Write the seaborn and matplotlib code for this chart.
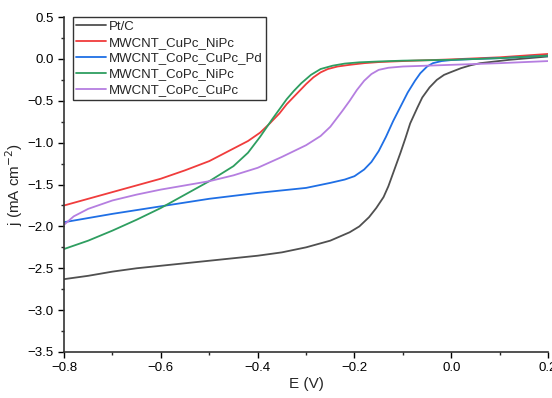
import numpy as np
import pandas as pd
import matplotlib
matplotlib.use("Agg")
import matplotlib.pyplot as plt
import seaborn as sns
from matplotlib.ticker import MultipleLocator

# Data
ptc_e = [-0.8, -0.75, -0.7, -0.65, -0.6, -0.5, -0.4, -0.35, -0.3, -0.25, -0.21, -0.19, -0.17, -0.155,
         -0.14, -0.13, -0.12, -0.105, -0.095, -0.085, -0.07, -0.06, -0.045, -0.03, -0.015,
         0.0, 0.02, 0.04, 0.06, 0.09, 0.12, 0.16, 0.2]
ptc_j = [-2.63, -2.59, -2.54, -2.50, -2.47, -2.41, -2.35, -2.31, -2.25, -2.17, -2.07, -2.00, -1.89, -1.78,
         -1.65, -1.52, -1.36, -1.12, -0.95, -0.77, -0.58, -0.46, -0.34, -0.25, -0.19,
         -0.155, -0.11, -0.075, -0.05, -0.03, -0.01, 0.01, 0.03]

cunipc_e = [-0.8, -0.75, -0.7, -0.65, -0.6, -0.55, -0.5, -0.45, -0.42, -0.395, -0.375, -0.355,
            -0.34, -0.32, -0.3, -0.285, -0.27, -0.255, -0.235, -0.21, -0.18, -0.15, -0.1,
            -0.05, 0.0, 0.1, 0.2]
cunipc_j = [-1.75, -1.67, -1.59, -1.51, -1.43, -1.33, -1.22, -1.07, -0.98, -0.88, -0.77, -0.65,
            -0.54, -0.42, -0.30, -0.22, -0.16, -0.12, -0.09, -0.07, -0.05, -0.037, -0.025,
            -0.015, -0.005, 0.02, 0.06]

pd_e = [-0.8, -0.7, -0.6, -0.5, -0.4, -0.3, -0.25, -0.22, -0.2, -0.18, -0.165, -0.15, -0.135,
        -0.12, -0.105, -0.09, -0.075, -0.064, -0.05, -0.038, -0.02, 0.0, 0.05, 0.1, 0.2]
pd_j = [-1.95, -1.85, -1.76, -1.67, -1.60, -1.54, -1.48, -1.44, -1.40, -1.32, -1.23, -1.10, -0.93,
        -0.74, -0.57, -0.40, -0.26, -0.17, -0.09, -0.05, -0.025, -0.013, 0.0, 0.01, 0.04]

conipc_e = [-0.8, -0.75, -0.7, -0.65, -0.6, -0.55, -0.5, -0.45, -0.42, -0.395, -0.37, -0.355,
            -0.34, -0.325, -0.31, -0.29, -0.27, -0.245, -0.22, -0.19, -0.15, -0.1, 0.0, 0.1, 0.2]
conipc_j = [-2.27, -2.17, -2.05, -1.92, -1.78, -1.62, -1.46, -1.28, -1.12, -0.93, -0.72, -0.60,
            -0.48, -0.38, -0.29, -0.19, -0.12, -0.08, -0.055, -0.04, -0.03, -0.02, -0.01, 0.01, 0.04]

cocupc_e = [-0.8, -0.78, -0.75, -0.7, -0.65, -0.6, -0.55, -0.5, -0.45, -0.4, -0.35, -0.3, -0.27,
            -0.25, -0.225, -0.21, -0.195, -0.18, -0.165, -0.15, -0.13, -0.1, -0.05, 0.0, 0.1, 0.2]
cocupc_j = [-1.98, -1.88, -1.79, -1.69, -1.62, -1.56, -1.51, -1.46, -1.39, -1.30, -1.17, -1.03, -0.92,
            -0.81, -0.62, -0.50, -0.37, -0.26, -0.18, -0.13, -0.105, -0.09, -0.08, -0.07, -0.05, -0.025]

samples = ["Pt/C", "MWCNT_CuPc_NiPc", "MWCNT_CoPc_CuPc_Pd", "MWCNT_CoPc_NiPc", "MWCNT_CoPc_CuPc"]
series = [(ptc_e, ptc_j), (cunipc_e, cunipc_j), (pd_e, pd_j), (conipc_e, conipc_j), (cocupc_e, cocupc_j)]
colors = ["#505050", "#F03C3C", "#1F6FE5", "#2E9E60", "#B57EE0"]

frames = []
for name, (e, j) in zip(samples, series):
    frames.append(pd.DataFrame({"E": e, "j": j, "sample": name}))
df = pd.concat(frames, ignore_index=True)

sns.set_theme(style="ticks")
plt.rcParams["font.family"] = ["Liberation Sans", "DejaVu Sans"]

fig = plt.figure(figsize=(5.52, 3.98), dpi=100)
ax = fig.add_axes([0.116, 0.1156, 0.877, 0.8414])

sns.lineplot(data=df, x="E", y="j", hue="sample", hue_order=samples,
             palette=colors, linewidth=1.3, ax=ax, sort=True, estimator=None)

ax.set_xlim(-0.8, 0.2)
ax.set_ylim(-3.5, 0.5)
ax.xaxis.set_major_locator(MultipleLocator(0.2))
ax.xaxis.set_minor_locator(MultipleLocator(0.1))
ax.yaxis.set_major_locator(MultipleLocator(0.5))
ax.yaxis.set_minor_locator(MultipleLocator(0.25))
ax.tick_params(which="major", direction="out", length=4, width=1, labelsize=9.5, colors="black")
ax.tick_params(which="minor", direction="out", length=2.5, width=1)

for side in ["top", "right"]:
    ax.spines[side].set_visible(False)
for side in ["left", "bottom"]:
    ax.spines[side].set_color("#333333")
    ax.spines[side].set_linewidth(1.2)

ax.set_xlabel("E (V)", fontsize=11, labelpad=2)
ax.set_ylabel("j (mA cm$^{-2}$)", fontsize=11, labelpad=2)

leg = ax.legend(loc="upper left", bbox_to_anchor=(0.018, 1.0), frameon=True, fancybox=False,
                fontsize=9.5, handlelength=2.3, handletextpad=0.2, labelspacing=0.28,
                borderpad=0.25, borderaxespad=0)
leg.get_frame().set_edgecolor("black")
leg.get_frame().set_linewidth(1.0)

fig.savefig("out.png", dpi=100)
